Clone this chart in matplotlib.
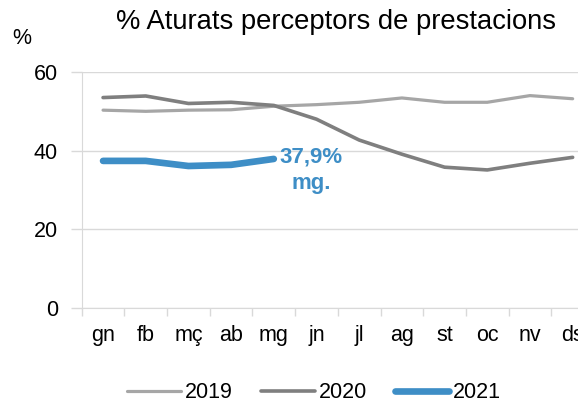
import matplotlib
matplotlib.use("Agg")
from matplotlib import pyplot as plt

plt.rcParams['font.family'] = ['Liberation Sans', 'DejaVu Sans']

months = ["gn", "fb", "mç", "ab", "mg", "jn", "jl", "ag", "st", "oc", "nv", "ds"]
y2019 = [50.3, 50.0, 50.3, 50.4, 51.3, 51.7, 52.3, 53.4, 52.3, 52.3, 54.0, 53.2]
y2020 = [53.5, 53.9, 52.0, 52.3, 51.5, 48.0, 42.7, 39.1, 35.8, 35.1, 36.8, 38.3]
y2021 = [37.4, 37.4, 36.1, 36.4, 37.9]

c2019 = "#a6a6a6"
c2020 = "#7f7f7f"
c2021 = "#3e8ec6"
grid_c = "#d9d9d9"

fig = plt.figure(figsize=(5.78, 4.05), dpi=100)
ax = fig.add_axes([81.7 / 578, 1 - 308 / 405, (594 - 81.7) / 578, (308 - 72) / 405])

x = list(range(len(months)))
ax.plot(x, y2019, color=c2019, lw=2.3, label="2019", solid_capstyle="round")
ax.plot(x, y2020, color=c2020, lw=2.6, label="2020", solid_capstyle="round")
ax.plot(x[:len(y2021)], y2021, color=c2021, lw=4.8, label="2021", solid_capstyle="round")

ax.set_xlim(-0.5, len(months) - 0.5)
ax.set_ylim(0, 60)
ax.set_yticks([0, 20, 40, 60])
ax.set_xticks(x)
ax.set_xticklabels(months)
ax.set_xticks([i - 0.5 for i in range(len(months) + 1)], minor=True)
ax.tick_params(axis="x", which="major", length=0, pad=12, labelsize=15.5)
ax.tick_params(axis="x", which="minor", length=6, color=grid_c, width=1)
ax.tick_params(axis="y", length=8, color=grid_c, width=1, pad=9, labelsize=15.5)

ax.grid(axis="y", color=grid_c, lw=1)
ax.set_axisbelow(True)
for s in ["top", "right"]:
    ax.spines[s].set_visible(False)
ax.spines["left"].set_color(grid_c)
ax.spines["bottom"].set_color(grid_c)

# etiqueta del darrer valor
ax.text(4.88, 35.0, "37,9%\nmg.", color=c2021, fontsize=16, fontweight="bold",
        ha="center", va="center", linespacing=1.3)

fig.text(336 / 578, 1 - 22 / 405, "% Aturats perceptors de prestacions",
         fontsize=19.7, ha="center", va="center")
fig.text(22 / 578, 1 - 38 / 405, "%", fontsize=15.5, ha="center", va="center")

fig.legend(loc="center", bbox_to_anchor=(314 / 578, 1 - 393 / 405), ncol=3,
           frameon=False, fontsize=15.5, handlelength=2.5, handletextpad=0.2,
           columnspacing=1.3)

fig.savefig("out.png", dpi=100)
